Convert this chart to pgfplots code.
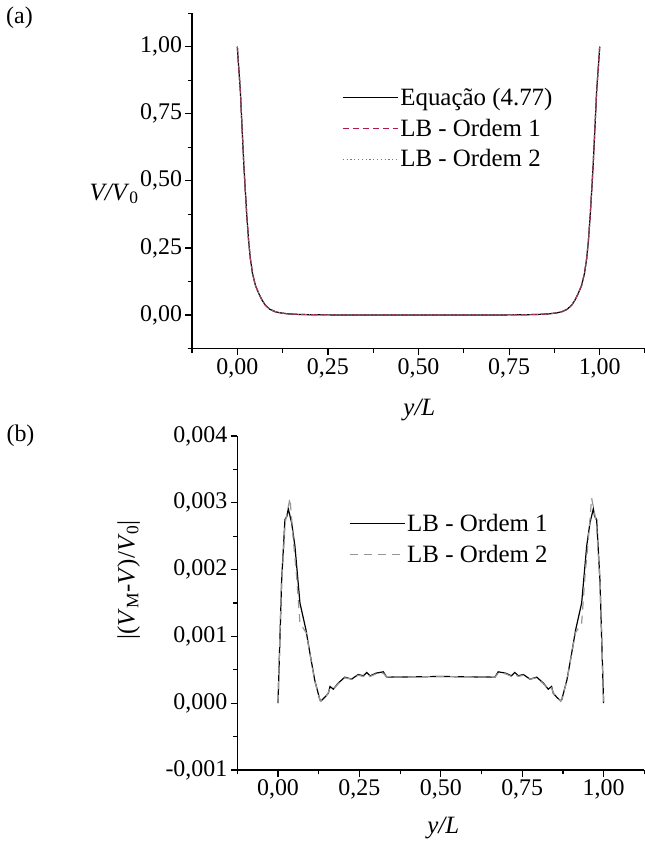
\documentclass[border=0pt]{standalone}
\usepackage{fontspec}
\setmainfont{Liberation Serif}
\usepackage{pgfplots}
\pgfplotsset{compat=1.18}
\definecolor{crim}{RGB}{170,30,75}
\definecolor{lgray}{RGB}{150,150,150}
\definecolor{dgray}{RGB}{120,120,120}

\pgfplotsset{
  mystyle/.style={
    scale only axis,
    axis x line*=bottom, axis y line*=left,
    axis line style={line width=1.2bp, -},
    tick style={line width=1.2bp, black},
    tick align=outside,
    major tick length=6.5bp, minor tick length=4bp,
    xmin=-0.125, xmax=1.125,
    xtick={0,0.25,0.5,0.75,1},
    minor xtick={-0.125,0.125,0.375,0.625,0.875,1.125},
    xticklabels={{0,00},{0,25},{0,50},{0,75},{1,00}},
    ticklabel style={font=\fontsize{24}{24}\selectfont},
    legend cell align=left,
    legend style={draw=none, fill=none, inner sep=0pt, row sep=8bp,
      font=\fontsize{25}{25}\selectfont},
    legend image code/.code={\draw[##1] (0bp,0bp) -- (55bp,0bp);},
  }
}

\begin{document}
\begin{tikzpicture}
\path[use as bounding box] (0,0) rectangle (645bp,-841bp);

\node[font=\fontsize{24}{24}\selectfont] at (19.5bp,-17.5bp) {(a)};
\node[font=\fontsize{24}{24}\selectfont] at (20.5bp,-436bp) {(b)};

% ---------------- Panel (a)
\begin{axis}[mystyle,
  at={(192bp,-348.5bp)}, anchor=south west,
  width=453bp, height=335.3bp,
  ymin=-0.125, ymax=1.125,
  ytick={0,0.25,0.5,0.75,1},
  minor ytick={-0.125,0.125,0.375,0.625,0.875,1.125},
  yticklabels={{0,00},{0,25},{0,50},{0,75},{1,00}},
  every axis y label/.style={at={(axis description cs:-0.1717,0.461)}, anchor=center, font=\fontsize{25}{25}\selectfont},
  every axis x label/.style={at={(axis description cs:0.502,-0.183)}, anchor=center, font=\fontsize{25}{25}\selectfont},
  ylabel={\textit{V/V}\textsubscript{0}},
  xlabel={\textit{y/L}},
  legend style={at={(axis description cs:0.331,0.783)}, anchor=north west},
]
\addplot[black, line width=1.2bp] coordinates {
(0,1.0) (0.004,0.92) (0.0083,0.839) (0.0115,0.745) (0.0148,0.652) (0.018,0.56)
(0.022,0.466) (0.026,0.375) (0.031,0.28) (0.036,0.21) (0.042,0.155) (0.05,0.11)
(0.059,0.081) (0.068,0.056) (0.077,0.037) (0.09,0.021) (0.105,0.012) (0.12,0.0075)
(0.141,0.004) (0.17,0.002) (0.2,0.001) (0.25,0.0003) (0.3,0.0001) (0.35,0.0)
(0.5,0.0) (0.65,0.0) (0.7,0.0001) (0.75,0.0003) (0.8,0.001) (0.83,0.002)
(0.859,0.004) (0.88,0.0075) (0.895,0.012) (0.91,0.021) (0.923,0.037) (0.932,0.056)
(0.941,0.081) (0.95,0.11) (0.958,0.155) (0.964,0.21) (0.969,0.28) (0.974,0.375)
(0.978,0.466) (0.982,0.56) (0.9852,0.652) (0.9885,0.745) (0.9917,0.839) (0.996,0.92) (1,1.0)
};
\addlegendentry{Equação (4.77)}
\addplot[crim, line width=1.2bp, dash pattern=on 6bp off 4bp] coordinates {
(0,1.0) (0.004,0.92) (0.0083,0.839) (0.0115,0.745) (0.0148,0.652) (0.018,0.56)
(0.022,0.466) (0.026,0.375) (0.031,0.28) (0.036,0.21) (0.042,0.155) (0.05,0.11)
(0.059,0.081) (0.068,0.056) (0.077,0.037) (0.09,0.021) (0.105,0.012) (0.12,0.0075)
(0.141,0.004) (0.17,0.002) (0.2,0.001) (0.25,0.0003) (0.3,0.0001) (0.35,0.0)
(0.5,0.0) (0.65,0.0) (0.7,0.0001) (0.75,0.0003) (0.8,0.001) (0.83,0.002)
(0.859,0.004) (0.88,0.0075) (0.895,0.012) (0.91,0.021) (0.923,0.037) (0.932,0.056)
(0.941,0.081) (0.95,0.11) (0.958,0.155) (0.964,0.21) (0.969,0.28) (0.974,0.375)
(0.978,0.466) (0.982,0.56) (0.9852,0.652) (0.9885,0.745) (0.9917,0.839) (0.996,0.92) (1,1.0)
};
\addlegendentry{LB - Ordem 1}
\addplot[dgray, line width=1.0bp, dash pattern=on 1.2bp off 2.6bp] coordinates {
(0,1.0) (0.004,0.92) (0.0083,0.839) (0.0115,0.745) (0.0148,0.652) (0.018,0.56)
(0.022,0.466) (0.026,0.375) (0.031,0.28) (0.036,0.21) (0.042,0.155) (0.05,0.11)
(0.059,0.081) (0.068,0.056) (0.077,0.037) (0.09,0.021) (0.105,0.012) (0.12,0.0075)
(0.141,0.004) (0.17,0.002) (0.2,0.001) (0.25,0.0003) (0.3,0.0001) (0.35,0.0)
(0.5,0.0) (0.65,0.0) (0.7,0.0001) (0.75,0.0003) (0.8,0.001) (0.83,0.002)
(0.859,0.004) (0.88,0.0075) (0.895,0.012) (0.91,0.021) (0.923,0.037) (0.932,0.056)
(0.941,0.081) (0.95,0.11) (0.958,0.155) (0.964,0.21) (0.969,0.28) (0.974,0.375)
(0.978,0.466) (0.982,0.56) (0.9852,0.652) (0.9885,0.745) (0.9917,0.839) (0.996,0.92) (1,1.0)
};
\addlegendentry{LB - Ordem 2}
\end{axis}

% ---------------- Panel (b)
\begin{axis}[mystyle,
  at={(237.3bp,-770bp)}, anchor=south west,
  width=407bp, height=334bp,
  ymin=-0.001, ymax=0.004,
  ytick={-0.001,0,0.001,0.002,0.003,0.004},
  minor ytick={-0.0005,0.0005,0.0015,0.0025,0.0035},
  yticklabels={{-0,001},{0,000},{0,001},{0,002},{0,003},{0,004}},
  scaled y ticks=false,
  every axis y label/.style={at={(axis description cs:-0.2666,0.569)}, anchor=center, rotate=90, font=\fontsize{25}{25}\selectfont},
  every axis x label/.style={at={(axis description cs:0.506,-0.174)}, anchor=center, font=\fontsize{25}{25}\selectfont},
  ylabel={|(\textit{V}\textsubscript{M}-\textit{V})/\textit{V}\textsubscript{0}|},
  xlabel={\textit{y/L}},
  legend style={at={(axis description cs:0.274,0.772)}, anchor=north west},
]
\addplot[black, line width=1.2bp] coordinates {
(0,0) (0.0113,0.00185) (0.0214,0.00275) (0.0275,0.0028) (0.0316,0.00291) (0.0419,0.0027)
(0.052,0.00235) (0.0674,0.0015) (0.0858,0.0011) (0.098,0.00075) (0.1126,0.00035)
(0.1286,0.00005) (0.132,0.000035) (0.144,0.00009) (0.1547,0.00015) (0.1598,0.00025)
(0.170,0.00021) (0.1848,0.0003) (0.2053,0.00039) (0.226,0.00036) (0.2466,0.00043)
(0.262,0.00041) (0.2726,0.00046) (0.283,0.00041) (0.3012,0.00045) (0.3236,0.00047)
(0.3338,0.00039) (0.5,0.0004)
(0.6662,0.00039) (0.6764,0.00047) (0.6988,0.00045) (0.717,0.00041) (0.7274,0.00046)
(0.738,0.00041) (0.7534,0.00043) (0.774,0.00036) (0.7947,0.00039) (0.8152,0.0003)
(0.830,0.00021) (0.8402,0.00025) (0.8453,0.00015) (0.856,0.00009) (0.868,0.000035)
(0.8714,0.00005) (0.8874,0.00035) (0.902,0.00075) (0.9142,0.0011) (0.9326,0.0015)
(0.948,0.00235) (0.9581,0.0027) (0.9684,0.00291) (0.9725,0.0028) (0.9786,0.00275)
(0.9887,0.00185) (1,0)
};
\addlegendentry{LB - Ordem 1}
\addplot[lgray, line width=1.2bp, dash pattern=on 8bp off 6bp] coordinates {
(0,0) (0.01,0.0017) (0.022,0.0027) (0.0368,0.00307) (0.0469,0.00245) (0.0572,0.0019)
(0.0674,0.0012) (0.087,0.00105) (0.098,0.00074) (0.1126,0.00034) (0.1286,0.00005)
(0.132,0.00003) (0.144,0.00008) (0.1547,0.00016) (0.1598,0.00023) (0.170,0.00021)
(0.1848,0.00029) (0.2053,0.00038) (0.226,0.00036) (0.2466,0.00042) (0.262,0.0004)
(0.2726,0.00044) (0.283,0.0004) (0.3012,0.00044) (0.3236,0.00045) (0.3338,0.00039)
(0.5,0.0004)
(0.6662,0.00039) (0.6764,0.00045) (0.6988,0.00044) (0.717,0.0004) (0.7274,0.00044)
(0.738,0.0004) (0.7534,0.00042) (0.774,0.00036) (0.7947,0.00038) (0.8152,0.00029)
(0.830,0.00021) (0.8402,0.00023) (0.8453,0.00016) (0.856,0.00008) (0.868,0.00003)
(0.8714,0.00005) (0.8874,0.00034) (0.902,0.00074) (0.913,0.00105) (0.9326,0.0012)
(0.9428,0.0019) (0.9531,0.00245) (0.9632,0.00307) (0.978,0.0027) (0.99,0.0017) (1,0)
};
\addlegendentry{LB - Ordem 2}
\end{axis}
\end{tikzpicture}
\end{document}
